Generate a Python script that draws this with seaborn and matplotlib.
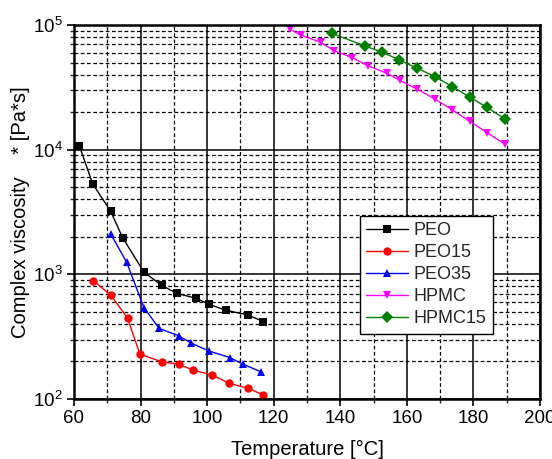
import matplotlib
matplotlib.use("Agg")
import matplotlib.pyplot as plt
import matplotlib.ticker as mticker
import numpy as np
import pandas as pd
import seaborn as sns

# Temperature [°C] and complex viscosity [Pa*s] per sample
peo_t = [61.6, 65.6, 71.0, 74.6, 81.0, 86.3, 90.8, 96.6, 100.6, 105.6, 112.2, 116.9]
peo_v = [10760, 5320, 3210, 1970, 1043, 817, 705, 643, 575, 515, 473, 418]

peo15_t = [65.8, 71.1, 76.1, 79.8, 86.3, 91.5, 95.9, 101.5, 106.5, 112.2, 116.9]
peo15_v = [891, 679, 445, 229, 199, 190, 170, 156, 134, 122, 108]

peo35_t = [71.1, 75.8, 81.0, 85.6, 91.5, 95.3, 100.5, 106.8, 110.8, 116.2]
peo35_v = [2090, 1254, 541, 368, 321, 280, 243, 215, 190, 165]

hpmc_t = [124.9, 128.1, 134.1, 138.1, 143.6, 148.2, 153.9, 157.9, 163.1,
          168.4, 173.6, 178.9, 184.1, 189.4]
hpmc_v = [92400, 83200, 72700, 62300, 54700, 47300, 41100, 35900, 30600,
          25500, 20900, 16900, 13700, 11100]

hpmc15_t = [137.4, 147.4, 152.6, 157.7, 163.1, 168.4, 173.6, 178.9, 184.1, 189.4]
hpmc15_v = [85800, 67900, 60500, 52500, 45000, 38600, 32100, 26400, 21800, 17700]

samples = ["PEO", "PEO15", "PEO35", "HPMC", "HPMC15"]
temps = [peo_t, peo15_t, peo35_t, hpmc_t, hpmc15_t]
viscs = [peo_v, peo15_v, peo35_v, hpmc_v, hpmc15_v]

colors = {"PEO": "#000000", "PEO15": "#FF0000", "PEO35": "#0000FF",
          "HPMC": "#FF00FF", "HPMC15": "#008000"}
markers = {"PEO": "s", "PEO15": "o", "PEO35": "^", "HPMC": "v", "HPMC15": "D"}

df = pd.concat(
    [pd.DataFrame({"T": t, "eta": v, "sample": s}) for s, t, v in zip(samples, temps, viscs)],
    ignore_index=True,
)

sns.set_theme(style="white")
plt.rcParams["font.family"] = ["Liberation Sans", "DejaVu Sans"]

fig, ax = plt.subplots(figsize=(5.52, 4.59), dpi=100)
fig.subplots_adjust(left=74 / 552, right=540 / 552, top=1 - 25 / 459, bottom=1 - 399 / 459)

sns.lineplot(
    data=df, x="T", y="eta", hue="sample", style="sample",
    hue_order=samples, style_order=samples,
    palette=colors, markers=markers, dashes=False,
    linewidth=1.0, markersize=6, markeredgewidth=0, ax=ax,
)

ax.set_yscale("log")
ax.set_xlim(60, 200)
ax.set_ylim(100, 100000)

ax.xaxis.set_major_locator(mticker.MultipleLocator(20))
ax.xaxis.set_minor_locator(mticker.MultipleLocator(10))
ax.yaxis.set_major_locator(mticker.LogLocator(base=10))
ax.yaxis.set_minor_locator(mticker.LogLocator(base=10, subs=np.arange(2, 10)))
ax.yaxis.set_minor_formatter(mticker.NullFormatter())

ax.grid(True, which="major", color="black", linewidth=1.1, linestyle="-")
ax.grid(True, which="minor", color="black", linewidth=0.9, linestyle=(0, (3, 2)))
ax.set_axisbelow(True)

ax.tick_params(which="major", direction="out", length=5, width=1.2, labelsize=13.5,
               colors="black", bottom=True, left=True, pad=3)
ax.tick_params(which="minor", direction="out", length=3, width=1.0, bottom=True, left=True)

for spine in ax.spines.values():
    spine.set_visible(True)
    spine.set_color("black")
    spine.set_linewidth(1.8)

ax.set_xlabel("Temperature [°C]", fontsize=14.5, labelpad=9, color="black")
ax.set_ylabel("Complex viscosity    * [Pa*s]", fontsize=14.5, labelpad=2, color="black")

leg = ax.legend(loc="upper left", bbox_to_anchor=(0.614, 0.49), fontsize=13,
                frameon=True, fancybox=False, framealpha=1, edgecolor="black",
                borderaxespad=0, borderpad=0.35, labelspacing=0.28,
                handlelength=2.3, handletextpad=0.3)
leg.get_frame().set_linewidth(1.0)

fig.savefig("out.png", dpi=100)
plt.close(fig)
